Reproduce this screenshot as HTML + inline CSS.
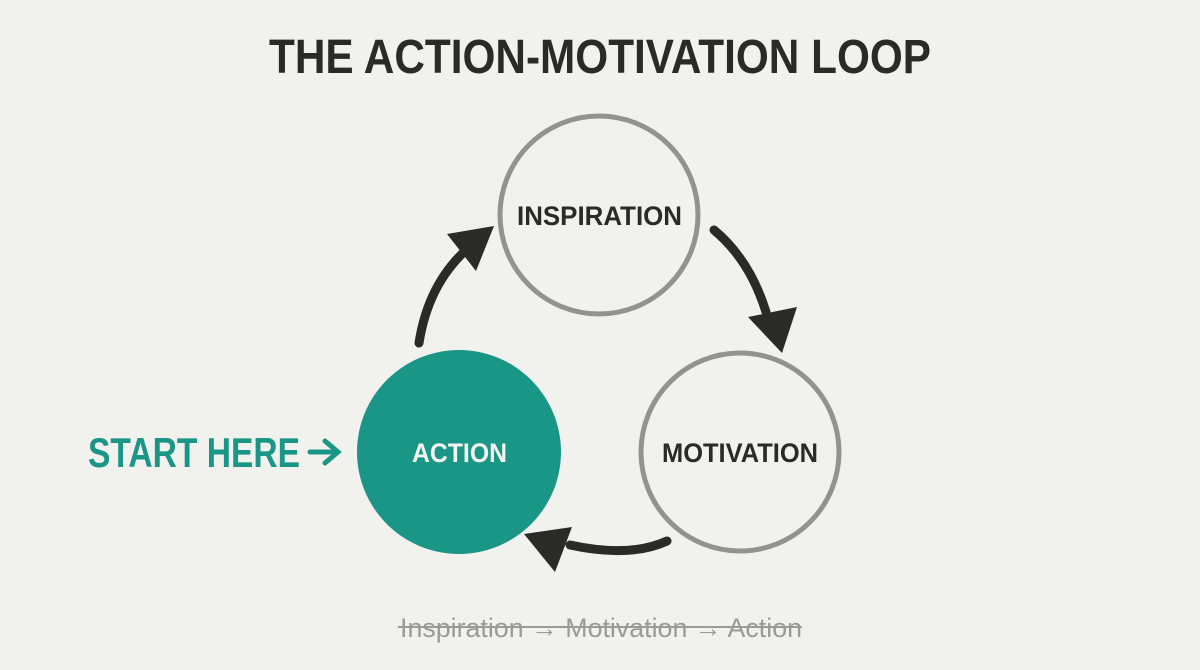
<!DOCTYPE html>
<html><head><meta charset="utf-8"><style>
html,body{margin:0;padding:0;background:#f1f1ed;}
svg{display:block;}
text{font-family:"Liberation Sans",sans-serif;font-weight:bold;}
</style></head><body>
<svg width="1200" height="670" viewBox="0 0 1200 670" xmlns="http://www.w3.org/2000/svg">
<rect width="1200" height="670" fill="#f1f1ed"/>
<text x="269" y="73" font-size="48" fill="#2a2a28" textLength="662" lengthAdjust="spacingAndGlyphs">THE ACTION-MOTIVATION LOOP</text>

<circle cx="599" cy="215" r="99" fill="none" stroke="#929290" stroke-width="5"/>
<circle cx="740" cy="452" r="99" fill="none" stroke="#929290" stroke-width="5"/>
<circle cx="459" cy="452" r="102" fill="#1a9687"/>

<text x="517" y="225" font-size="27" fill="#2a2a28" textLength="165" lengthAdjust="spacingAndGlyphs">INSPIRATION</text>
<text x="662" y="462" font-size="27" fill="#2a2a28" textLength="156" lengthAdjust="spacingAndGlyphs">MOTIVATION</text>
<text x="412" y="462" font-size="27" fill="#f4f4f0" textLength="95" lengthAdjust="spacingAndGlyphs">ACTION</text>

<text x="88" y="467" font-size="42" fill="#1a9687" textLength="212" lengthAdjust="spacingAndGlyphs">START HERE</text>
<path d="M310 452 H336 M325 441 L338 452 L325 463" fill="none" stroke="#1a9687" stroke-width="5" stroke-linecap="round"/>

<g fill="none" stroke="#2a2a28" stroke-width="9" stroke-linecap="round">
<path d="M419 343 Q428 285 466 250"/>
<path d="M714 230 Q750 260 766 312"/>
<path d="M667 541 Q630 558 570 545"/>
</g>
<g fill="#2a2a28">
<polygon points="494,226 447,234 476,271"/>
<polygon points="782,353 748,317 797,307"/>
<polygon points="524,534 572,527 555,572"/>
</g>

<text x="400" y="637" font-size="27" font-weight="normal" style="font-weight:normal" fill="#9a9a97" textLength="402" lengthAdjust="spacingAndGlyphs">Inspiration → Motivation → Action</text>
<line x1="398" y1="627" x2="802" y2="627" stroke="#9a9a97" stroke-width="2"/>
</svg>
</body></html>
